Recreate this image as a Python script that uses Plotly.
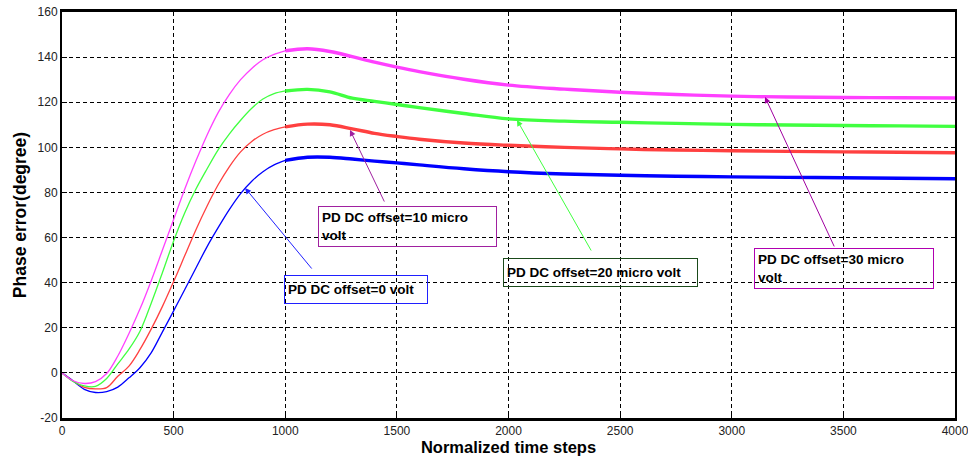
import plotly.graph_objects as go

# ---------------- data ----------------
steps = [0, 50, 100, 150, 200, 250, 300, 350, 400, 450, 500, 550, 600, 650, 700, 750,
         800, 850, 900, 950, 1000, 1100, 1200, 1300, 1400, 1500, 1600, 1800, 2000,
         2250, 2500, 2750, 3000, 3250, 3500, 3750, 4000]

offset_0uV = [0, -3.6, -7.3, -8.7, -8.3, -6.3, -2.2, 2.4, 9.0, 18.2, 27.5, 37, 46.5, 56,
              64.5, 72.5, 79.5, 85, 89.2, 92.2, 94.2, 95.6, 95.6, 94.8, 93.9, 93.1, 92.2,
              90.5, 89.2, 88.2, 87.6, 87.2, 86.9, 86.7, 86.5, 86.3, 86.1]
offset_10uV = [0, -3.6, -6.4, -7.1, -6.5, -1.5, 3.0, 10.5, 19.5, 29.5, 40.5, 52, 63.5, 74,
               83.5, 91.5, 98, 102.6, 105.8, 107.8, 109.1, 110.3, 110.0, 108.2, 106.2,
               104.8, 103.6, 101.9, 100.9, 100.0, 99.3, 98.8, 98.5, 98.2, 98.0, 97.8, 97.6]
offset_20uV = [0, -3.8, -5.8, -6.0, -2.5, 4.0, 10.5, 18.6, 31, 44.5, 58.5, 71, 81.5, 90.5,
               99, 106, 112, 117.3, 121.4, 123.8, 125.0, 125.7, 124.6, 121.8, 120.4,
               119.0, 117.6, 115.0, 112.6, 111.6, 111.1, 110.6, 110.2, 109.9, 109.7,
               109.5, 109.3]
offset_30uV = [0, -3.5, -4.7, -3.9, -0.3, 7.5, 17.5, 28.5, 41, 54.5, 68, 81.5, 94, 105.5,
               115.5, 123.5, 130, 135, 138.8, 141.2, 142.8, 143.7, 142.5, 140.2, 137.8,
               135.6, 133.6, 130.2, 127.6, 125.8, 124.4, 123.4, 122.7, 122.3, 122.1,
               122.0, 121.9]

series = [
    ("PD DC offset=0 volt", offset_0uV, "#0000ff"),
    ("PD DC offset=10 micro volt", offset_10uV, "#ff4040"),
    ("PD DC offset=20 micro volt", offset_20uV, "#40ff40"),
    ("PD DC offset=30 micro volt", offset_30uV, "#ff40ff"),
]

x_ticks = [0, 500, 1000, 1500, 2000, 2500, 3000, 3500, 4000]
y_ticks = [-20, 0, 20, 40, 60, 80, 100, 120, 140, 160]

split = steps.index(1000)

fig = go.Figure()
for name, vals, col in series:
    # early (thin) part
    fig.add_trace(go.Scatter(x=steps[:split + 1], y=vals[:split + 1], mode="lines",
                             line=dict(color=col, width=1.3, shape="spline", smoothing=1.0),
                             name=name, showlegend=False, hoverinfo="skip"))
    # later (noisy, thicker) part
    fig.add_trace(go.Scatter(x=steps[split:], y=vals[split:], mode="lines",
                             line=dict(color=col, width=3.4, shape="spline", smoothing=1.0),
                             name=name, showlegend=False))

label_font = dict(family="Liberation Sans, Arial, sans-serif", size=13.5, color="#000000",
                  weight="bold")

# text boxes
boxes = [
    dict(x=1146, y=74.0, text="PD DC offset=10 micro<br>volt", border="#a020a0", w=171, h=None),
    dict(x=994, y=43.4, text="PD DC offset=0 volt", border="#2020ff", w=136, h=21),
    dict(x=1975, y=50.9, text="PD DC offset=20 micro volt", border="#1a4a1a", w=187, h=21),
    dict(x=3100, y=55.4, text="PD DC offset=30 micro<br>volt", border="#b000b0", w=172, h=None),
]
for b in boxes:
    kw = dict(x=b["x"], y=b["y"], xref="x", yref="y", xanchor="left", yanchor="top",
              text=b["text"], showarrow=False, align="left", valign="top",
              font=label_font, bordercolor=b["border"], borderwidth=1, borderpad=3,
              bgcolor="rgba(255,255,255,0)", width=b["w"])
    if b["h"]:
        kw["height"] = b["h"]
        kw["valign"] = "middle"
    fig.add_annotation(**kw)

# arrows (tip -> tail)
arrows = [
    dict(x=820, y=82.0, ax=1124, ay=45.6, color="#2020ff"),
    dict(x=1290, y=107.7, ax=1447, ay=75.3, color="#a020a0"),
    dict(x=2038, y=112.1, ax=2374, ay=53.6, color="#40ff40"),
    dict(x=3149, y=122.3, ax=3462, ay=55.4, color="#a000a0"),
]
for a in arrows:
    fig.add_annotation(x=a["x"], y=a["y"], ax=a["ax"], ay=a["ay"], xref="x", yref="y",
                       axref="x", ayref="y", text="", showarrow=True, arrowhead=2,
                       arrowsize=1.2, arrowwidth=1, arrowcolor=a["color"])

tick_font = dict(family="Liberation Sans, Arial, sans-serif", size=12, color="#222222")

fig.update_layout(
    width=968, height=461,
    margin=dict(l=62, r=13, t=12, b=43),
    paper_bgcolor="white", plot_bgcolor="white",
    showlegend=False,
    xaxis=dict(range=[0, 4000], tickvals=x_ticks, ticktext=[str(v) for v in x_ticks],
               automargin=False, ticklabeloverflow="allow",
               showgrid=True, gridcolor="#000000", gridwidth=1, griddash="4px,3px",
               zeroline=False, showline=True, linecolor="#000000", linewidth=2.5,
               mirror=True, ticks="inside", ticklen=5, tickcolor="#000000",
               tickfont=tick_font,
               title=dict(text="Normalized time steps", standoff=4,
                          font=dict(family="Liberation Sans, Arial, sans-serif", size=16.5,
                                    color="#000000", weight="bold"))),
    yaxis=dict(range=[-20, 160], tickvals=y_ticks, ticktext=[str(v) for v in y_ticks],
               automargin=False, ticklabeloverflow="allow",
               showgrid=True, gridcolor="#000000", gridwidth=1, griddash="4px,3px",
               zeroline=False, showline=True, linecolor="#000000", linewidth=2,
               mirror=True, ticks="inside", ticklen=5, tickcolor="#000000",
               tickfont=tick_font,
               title=dict(text="Phase error(degree)", standoff=6,
                          font=dict(family="Liberation Sans, Arial, sans-serif", size=17.5,
                                    color="#000000", weight="bold"))),
)

fig.write_html("out.html", config={"displayModeBar": False},
               post_script="document.body.style.margin='0';document.body.style.overflow='hidden';")
